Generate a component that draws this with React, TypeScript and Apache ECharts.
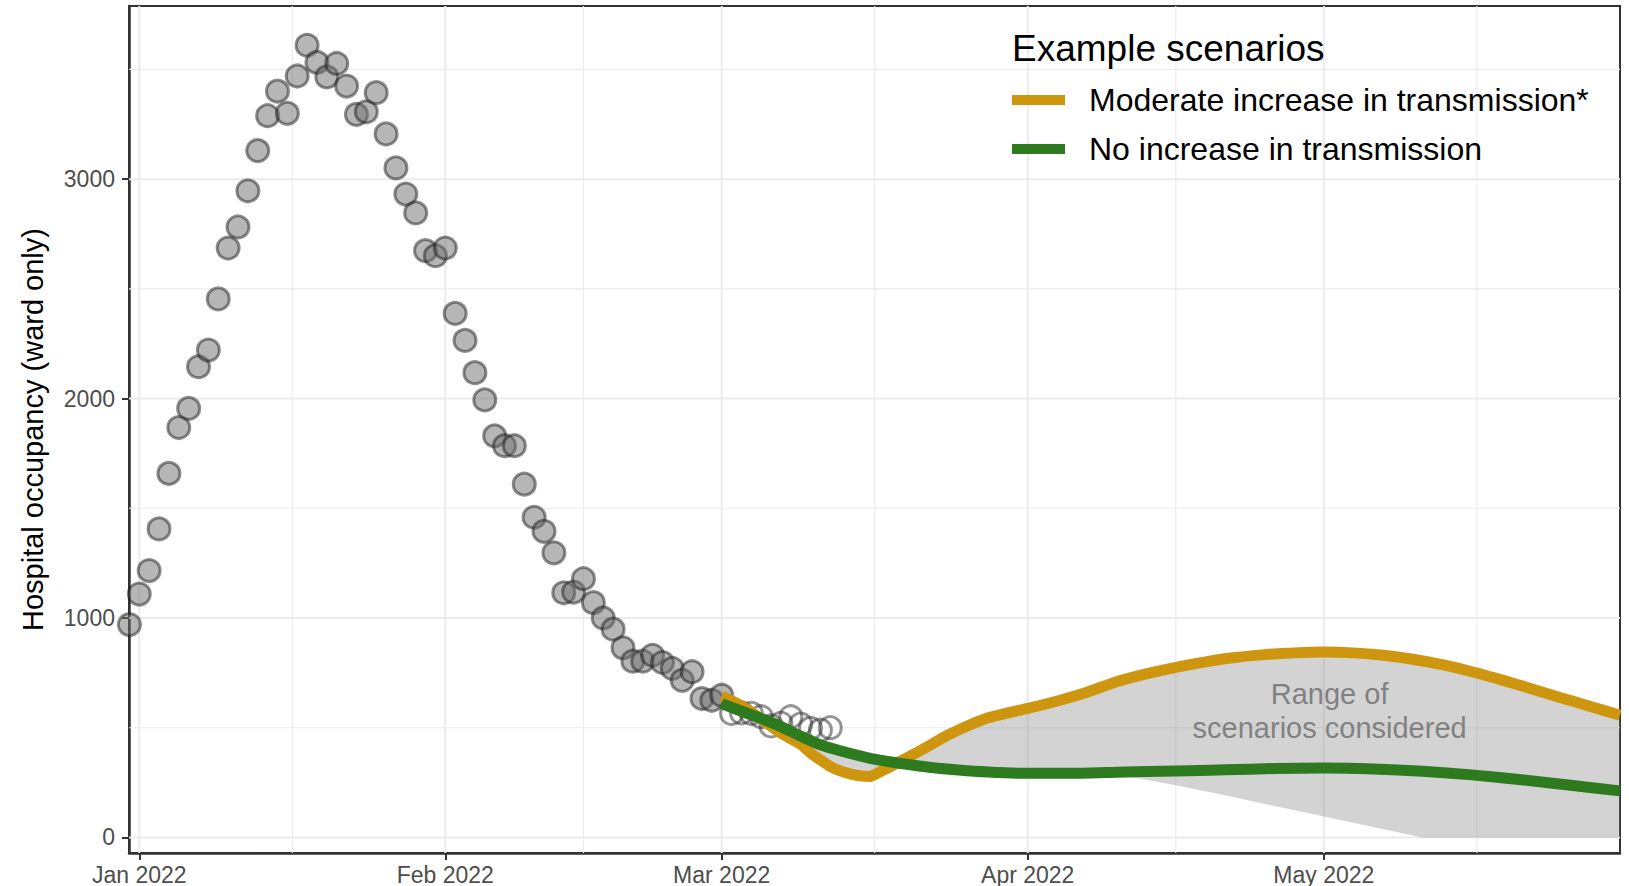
import React, { useEffect, useRef } from "react";
import * as echarts from "echarts";

const FONT = "'Liberation Sans', Arial, Helvetica, sans-serif";
const DAY = 86400000;
const ts = (s: string) => new Date(s.length === 10 ? s + "T00:00:00Z" : s).getTime();

// ---- axes ----
const xMin = "2021-12-30T23:00:00Z";
const xMax = "2022-05-31T00:00:00Z";
const xMajorTicks = ["2022-01-01", "2022-02-01", "2022-03-01", "2022-04-01", "2022-05-01"];
const xMinorTicks = ["2022-01-16T12:00:00Z", "2022-02-15T00:00:00Z", "2022-03-16T12:00:00Z", "2022-04-16T00:00:00Z", "2022-05-16T12:00:00Z"];
const monthNames = ["Jan", "Feb", "Mar", "Apr", "May", "Jun", "Jul", "Aug", "Sep", "Oct", "Nov", "Dec"];
const yMin = -71;
const yMax = 3789;
const yMajorTicks = [0, 1000, 2000, 3000];
const yMinorTicks = [500, 1500, 2500, 3500];
const yAxisTitle = "Hospital occupancy (ward only)";

// ---- observed data (daily) ----
const observedStart = "2021-12-31";
const observedFitted = [
  970, 1109, 1216, 1406, 1659, 1868, 1955, 2145, 2221, 2454,
  2686, 2782, 2947, 3130, 3289, 3401, 3300, 3470, 3610, 3532,
  3466, 3527, 3424, 3295, 3307, 3394, 3206, 3051, 2932, 2846,
  2674, 2651, 2686, 2388, 2265, 2118, 1994, 1830, 1785, 1785,
  1610, 1459, 1395, 1297, 1115, 1118, 1179, 1070, 1000, 949,
  864, 803, 803, 830, 797, 770, 716, 755, 633, 625,
  648,
];
const recentStart = "2022-03-02";
const observedRecent = [565, 568, 565, 550, 508, 520, 550, 516, 497, 489, 500];

// ---- scenarios ----
const moderateName = "Moderate increase in transmission*";
const moderateDates = [
  "2022-03-01", "2022-03-03", "2022-03-05", "2022-03-07", "2022-03-09", "2022-03-10", "2022-03-11", "2022-03-12", "2022-03-13", "2022-03-14",
  "2022-03-15", "2022-03-16", "2022-03-17", "2022-03-18", "2022-03-20", "2022-03-22", "2022-03-24", "2022-03-26", "2022-03-28", "2022-03-30",
  "2022-04-01", "2022-04-04", "2022-04-07", "2022-04-10", "2022-04-13", "2022-04-16", "2022-04-19", "2022-04-22", "2022-04-25", "2022-04-28",
  "2022-05-01", "2022-05-04", "2022-05-07", "2022-05-10", "2022-05-13", "2022-05-16", "2022-05-19", "2022-05-22", "2022-05-25", "2022-05-28",
  "2022-05-31",
];
const moderateValues = [
  645, 600, 540, 475, 425, 385, 353, 323, 303, 290,
  281, 278, 298, 320, 368, 418, 468, 510, 545, 568,
  588, 622, 662, 709, 745, 775, 800, 820, 833, 841,
  845, 841, 830, 812, 787, 755, 718, 678, 637, 597,
  557,
];

const noIncreaseName = "No increase in transmission";
const noIncreaseDates = [
  "2022-03-01", "2022-03-03", "2022-03-05", "2022-03-07", "2022-03-09", "2022-03-11", "2022-03-13", "2022-03-15", "2022-03-17", "2022-03-19",
  "2022-03-22", "2022-03-25", "2022-03-28", "2022-04-01", "2022-04-06", "2022-04-10", "2022-04-16", "2022-04-21", "2022-04-26", "2022-05-01",
  "2022-05-06", "2022-05-11", "2022-05-16", "2022-05-21", "2022-05-26", "2022-05-31",
];
const noIncreaseValues = [
  610, 575, 542, 505, 462, 422, 395, 372, 352, 338,
  320, 307, 298, 292, 292, 297, 303, 308, 314, 316,
  312, 302, 285, 263, 238, 212,
];

// ---- range of scenarios ----
const ribbonUpperDates = [
  "2022-03-01", "2022-03-03", "2022-03-05", "2022-03-07", "2022-03-09", "2022-03-11", "2022-03-13", "2022-03-15", "2022-03-17", "2022-03-18",
  "2022-03-19", "2022-03-20", "2022-03-22", "2022-03-24", "2022-03-26", "2022-03-28", "2022-03-30", "2022-04-01", "2022-04-04", "2022-04-07",
  "2022-04-10", "2022-04-13", "2022-04-16", "2022-04-19", "2022-04-22", "2022-04-25", "2022-04-28", "2022-05-01", "2022-05-04", "2022-05-07",
  "2022-05-10", "2022-05-13", "2022-05-16", "2022-05-19", "2022-05-22", "2022-05-25", "2022-05-28", "2022-05-31",
];
const ribbonUpperValues = [
  645, 600, 542, 505, 462, 422, 395, 372, 352, 345,
  344, 368, 418, 468, 510, 545, 568, 588, 622, 662,
  709, 745, 775, 800, 820, 833, 841, 845, 841, 830,
  812, 787, 755, 718, 678, 637, 597, 557,
];
const ribbonLowerDates = [
  "2022-03-01", "2022-03-03", "2022-03-05", "2022-03-07", "2022-03-09", "2022-03-10", "2022-03-11", "2022-03-12", "2022-03-13", "2022-03-14",
  "2022-03-15", "2022-03-16", "2022-03-17", "2022-03-18", "2022-03-19", "2022-03-22", "2022-03-25", "2022-03-28", "2022-04-01", "2022-04-06",
  "2022-04-09", "2022-04-11", "2022-04-16", "2022-04-21", "2022-04-26", "2022-05-01", "2022-05-06", "2022-05-11", "2022-05-31",
];
const ribbonLowerValues = [
  610, 575, 540, 475, 425, 385, 353, 323, 303, 290,
  281, 278, 298, 320, 338, 320, 307, 298, 292, 292,
  292, 280, 238, 192, 143, 95, 48, 0, 0,
];

// ---- annotation / legend ----
const legendTitle = "Example scenarios";
const annotationText = "Range of\nscenarios considered";
const annotationDate = "2022-05-01T14:00:00Z";
const annotationValue = 578;

const ORANGE = "#CD960E";
const GREEN = "#2E7A1F";

export default function App() {
  const ref = useRef<HTMLDivElement>(null);

  useEffect(() => {
    if (!ref.current) return;
    const chart = echarts.init(ref.current, undefined, { renderer: "svg" });

    const gridData: number[][] = [];
    xMajorTicks.forEach((d) => gridData.push([ts(d), 0, 1, 1]));
    xMinorTicks.forEach((d) => gridData.push([ts(d), 0, 1, 0]));
    yMajorTicks.forEach((v) => gridData.push([ts(xMajorTicks[0]), v, 0, 1]));
    yMinorTicks.forEach((v) => gridData.push([ts(xMajorTicks[0]), v, 0, 0]));

    const option: any = {
      animation: false,
      textStyle: { fontFamily: FONT },
      grid: {
        left: 129,
        right: 9,
        top: 6,
        bottom: 31,
        show: true,
        borderColor: "#333333",
        borderWidth: 2,
        backgroundColor: "transparent",
      },
      title: {
        text: legendTitle,
        left: 1012,
        top: 27,
        padding: 0,
        textStyle: { fontSize: 37, fontWeight: "normal", color: "#000", lineHeight: 42, fontFamily: FONT },
      },
      legend: {
        orient: "vertical",
        left: 1012,
        top: 82,
        padding: 0,
        itemGap: 13,
        itemWidth: 53,
        itemHeight: 10,
        icon: "rect",
        selectedMode: false,
        data: [moderateName, noIncreaseName],
        textStyle: { fontSize: 32, color: "#000", lineHeight: 36, fontFamily: FONT, padding: [0, 0, 0, 19] },
      },
      xAxis: {
        type: "value",
        min: ts(xMin),
        max: ts(xMax),
        axisLine: { show: true, onZero: false, lineStyle: { color: "#333333", width: 2.5 } },
        axisTick: {
          show: true,
          length: 7,
          lineStyle: { color: "#333333", width: 2 },
          customValues: xMajorTicks.map(ts),
        },
        axisLabel: {
          customValues: xMajorTicks.map(ts),
          formatter: (v: number) => {
            const d = new Date(v);
            return monthNames[d.getUTCMonth()] + " " + d.getUTCFullYear();
          },
          color: "#4D4D4D",
          fontSize: 23,
          margin: 10,
          fontFamily: FONT,
        },
        splitLine: { show: false },
      },
      yAxis: {
        type: "value",
        min: yMin,
        max: yMax,
        name: yAxisTitle,
        nameLocation: "middle",
        nameGap: 82,
        nameTextStyle: { fontSize: 29, color: "#000", fontFamily: FONT },
        axisLine: { show: true, onZero: false, lineStyle: { color: "#333333", width: 2.5 } },
        axisTick: {
          show: true,
          length: 7,
          lineStyle: { color: "#333333", width: 2 },
          customValues: yMajorTicks,
        },
        axisLabel: {
          customValues: yMajorTicks,
          formatter: (v: number) => String(v),
          color: "#4D4D4D",
          fontSize: 23,
          margin: 14,
          fontFamily: FONT,
        },
        splitLine: { show: false },
      },
      series: [
        {
          type: "custom",
          name: "grid",
          silent: true,
          z: 1,
          encode: { x: 0, y: 1 },
          data: gridData,
          renderItem: (params: any, api: any) => {
            const cs = params.coordSys;
            const vertical = api.value(2) === 1;
            const major = api.value(3) === 1;
            let shape;
            if (vertical) {
              const p = api.coord([api.value(0), 0]);
              shape = { x1: p[0], y1: cs.y, x2: p[0], y2: cs.y + cs.height };
            } else {
              const p = api.coord([api.value(0), api.value(1)]);
              shape = { x1: cs.x, y1: p[1], x2: cs.x + cs.width, y2: p[1] };
            }
            return {
              type: "line",
              shape,
              style: { stroke: "#EBEBEB", lineWidth: major ? 2 : 1.1 },
            };
          },
        },
        {
          type: "custom",
          name: "range",
          silent: true,
          z: 2,
          encode: { x: 0, y: 1 },
          data: [[ts(ribbonUpperDates[0]), ribbonUpperValues[0]]],
          renderItem: (params: any, api: any) => {
            const pts: number[][] = [];
            ribbonUpperDates.forEach((d, i) => pts.push(api.coord([ts(d), ribbonUpperValues[i]])));
            for (let i = ribbonLowerDates.length - 1; i >= 0; i--) {
              pts.push(api.coord([ts(ribbonLowerDates[i]), ribbonLowerValues[i]]));
            }
            return {
              type: "polygon",
              shape: { points: pts },
              style: { fill: "rgba(128,128,128,0.35)" },
            };
          },
        },
        {
          type: "scatter",
          name: "annotation",
          silent: true,
          z: 3,
          symbolSize: 1,
          itemStyle: { color: "rgba(0,0,0,0)" },
          data: [[ts(annotationDate), annotationValue]],
          label: {
            show: true,
            position: "inside",
            formatter: annotationText,
            fontSize: 29,
            lineHeight: 34,
            color: "#6B6B6B",
            align: "center",
            verticalAlign: "middle",
            fontFamily: FONT,
          },
        },
        {
          type: "scatter",
          name: "observed",
          silent: true,
          z: 4,
          symbol: "circle",
          symbolSize: 22,
          itemStyle: { color: "#6E6E6E", borderColor: "#1E1E1E", borderWidth: 3, opacity: 0.5 },
          data: observedFitted.map((v, i) => [ts(observedStart) + i * DAY, v]),
        },
        {
          type: "scatter",
          name: "recent",
          silent: true,
          z: 4,
          symbol: "circle",
          symbolSize: 22,
          itemStyle: { color: "rgba(0,0,0,0)", borderColor: "#2A2A2A", borderWidth: 3, opacity: 0.5 },
          data: observedRecent.map((v, i) => [ts(recentStart) + i * DAY, v]),
        },
        {
          type: "line",
          name: moderateName,
          silent: true,
          z: 5,
          color: ORANGE,
          symbol: "none",
          smooth: 0.2,
          lineStyle: { color: ORANGE, width: 11, join: "round" },
          itemStyle: { color: ORANGE },
          data: moderateDates.map((d, i) => [ts(d), moderateValues[i]]),
        },
        {
          type: "line",
          name: noIncreaseName,
          silent: true,
          z: 6,
          color: GREEN,
          symbol: "none",
          smooth: 0.2,
          lineStyle: { color: GREEN, width: 11, join: "round" },
          itemStyle: { color: GREEN },
          data: noIncreaseDates.map((d, i) => [ts(d), noIncreaseValues[i]]),
        },
      ],
    };

    chart.setOption(option);
    return () => chart.dispose();
  }, []);

  return (
    <div
      ref={ref}
      style={{ position: "fixed", left: 0, top: 0, width: 1629, height: 886, background: "#fff" }}
    />
  );
}
